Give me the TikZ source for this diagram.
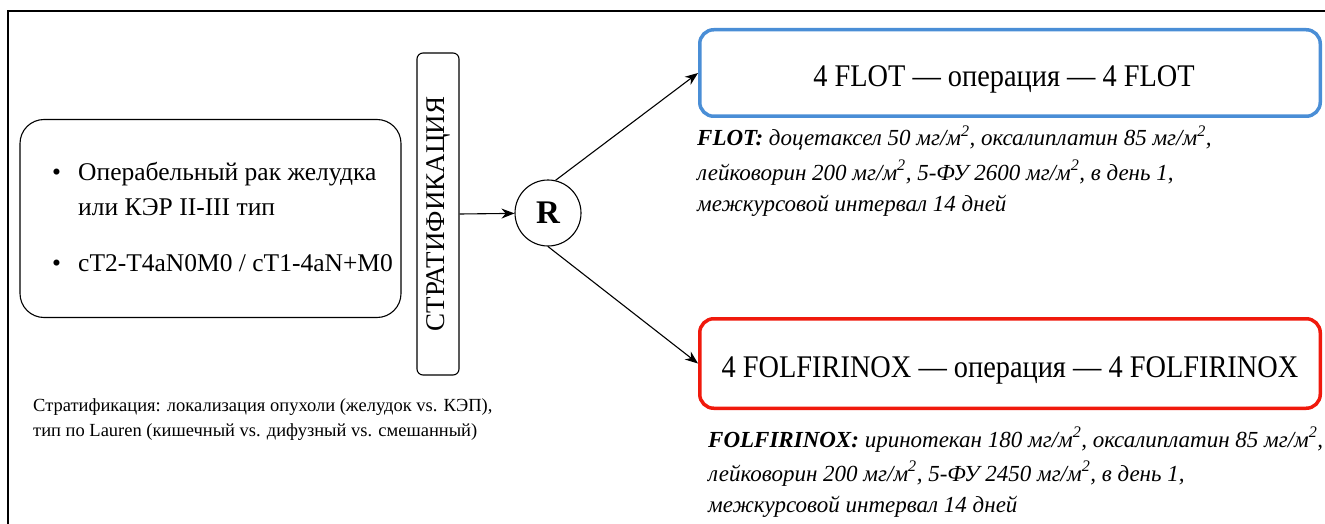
\documentclass[tikz,border=0pt]{standalone}
\usepackage{fontspec}
\setmainfont{Liberation Serif}
\usetikzlibrary{arrows.meta}
\newcommand\fsz[2]{\fontsize{#1}{#2}\selectfont}
\begin{document}
\begin{tikzpicture}[x=1pt, y=1pt, >={Stealth[length=13pt, width=10pt]},
  thin box/.style={draw, line width=1.1pt},
  arm box/.style={draw=#1, line width=3.5pt, rounded corners=14pt,
    minimum width=620.5pt, text depth=0pt, font=\fsz{31.5}{31.5}},
  txt/.style={anchor=base west, inner sep=0pt}]
  \definecolor{flotblue}{HTML}{4A8ED6}
  \definecolor{folfred}{HTML}{F0190C}
  \useasboundingbox (0,0) rectangle (1325,-524);

  % ---- page frame (top and left rules only) --------------------------------
  \draw[line width=1.1pt] (8,-524) -- (8,-11) -- (1325,-11);

  % ---- inclusion box -------------------------------------------------------
  \node[thin box, rounded corners=24pt, minimum width=381pt,
    minimum height=198pt] (incl) at (210.5,-218.5) {};
  \node[txt, font=\fsz{25.5}{26}] (dot1) at (52,-180) {\textbullet};
  \node[txt, font=\fsz{25.5}{26}] (crit1) at (78,-180) {Операбельный рак желудка};
  \node[txt, font=\fsz{25.5}{26}] (crit1b) at (78,-215) {или КЭР II-III тип};
  \node[txt, font=\fsz{25.5}{26}] (dot2) at (52,-271) {\textbullet};
  \node[txt, font=\fsz{25.5}{26}] (crit2) at (78,-271) {cT2-T4aN0M0 / cT1-4aN+M0};

  % ---- stratification and randomisation -----------------------------------
  \node[thin box, rounded corners=6pt, minimum width=322pt, minimum height=42pt,
    rotate=90, font=\fsz{27}{27}] (strat) at (438,-214) {СТРАТИФИКАЦИЯ};
  \node[thin box, circle, minimum size=66pt, inner sep=0pt,
    font=\bfseries\fsz{33}{33}] (rnd) at (548,-213) {R};

  % ---- the two arms --------------------------------------------------------
  \node[arm box=flotblue, minimum height=86.5pt, text height=28pt] (flot)
    at (1010,-73) {\scalebox{0.9}[1]{4 FLOT — операция — 4 FLOT}\hspace*{12pt}};
  \node[arm box=folfred, minimum height=89.5pt, text height=27pt] (folf)
    at (1010,-363.5) {\scalebox{0.9}[1]{4 FOLFIRINOX — операция — 4 FOLFIRINOX}};

  % ---- connectors ----------------------------------------------------------
  \draw[->, line width=1.1pt] (strat.south) -- (rnd);
  \draw[->, line width=1.1pt] (rnd.77) -- (flot.west);
  \draw[->, line width=1.1pt] (rnd.south) -- (folf.west);

  % ---- regimen notes -------------------------------------------------------
  \node[txt, font=\itshape\fsz{23}{23}] (flot1) at (697,-146)
    {\textbf{FLOT:} доцетаксел 50 мг/м\textsuperscript{2}, оксалиплатин 85 мг/м\textsuperscript{2},};
  \node[txt, font=\itshape\fsz{23}{23}] (flot2) at (697,-180)
    {лейковорин 200 мг/м\textsuperscript{2}, 5-ФУ 2600 мг/м\textsuperscript{2}, в день 1,};
  \node[txt, font=\itshape\fsz{23}{23}] (flot3) at (697,-211)
    {межкурсовой интервал 14 дней};
  \node[txt, font=\itshape\fsz{23}{23}] (folf1) at (708,-447)
    {\textbf{FOLFIRINOX:} иринотекан 180 мг/м\textsuperscript{2}, оксалиплатин 85 мг/м\textsuperscript{2},};
  \node[txt, font=\itshape\fsz{23}{23}] (folf2) at (708,-481)
    {лейковорин 200 мг/м\textsuperscript{2}, 5-ФУ 2450 мг/м\textsuperscript{2}, в день 1,};
  \node[txt, font=\itshape\fsz{23}{23}] (folf3) at (708,-512)
    {межкурсовой интервал 14 дней};

  % ---- stratification factors ----------------------------------------------
  \node[txt, font=\fsz{18.5}{18.5}] (fact1) at (33,-411)
    {Стратификация: локализация опухоли (желудок vs. КЭП),};
  \node[txt, font=\fsz{18.5}{18.5}] (fact2) at (33,-436)
    {тип по Lauren (кишечный vs. дифузный vs. смешанный)};
\end{tikzpicture}
\end{document}
